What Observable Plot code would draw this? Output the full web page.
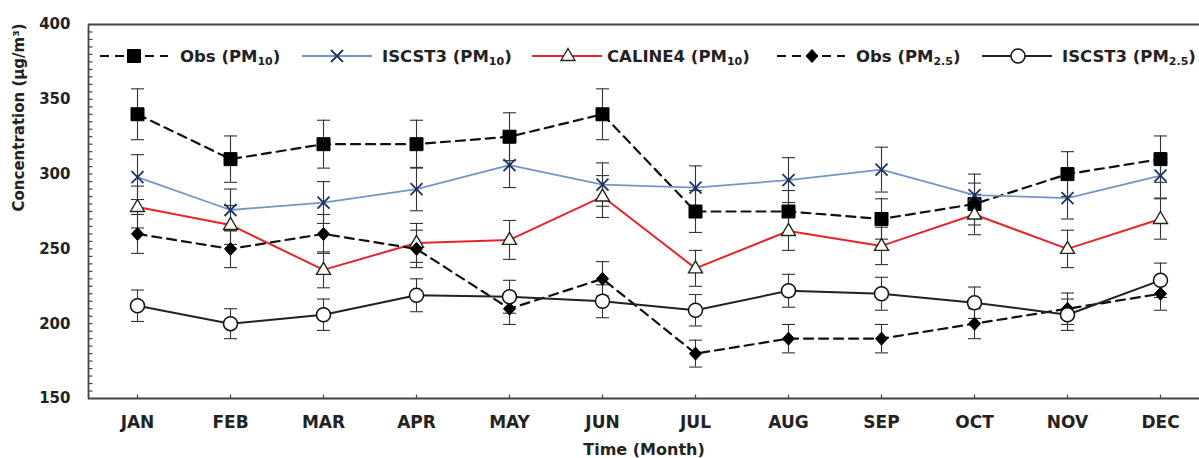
<!DOCTYPE html>
<html>
<head>
<meta charset="utf-8">
<script src="https://cdn.jsdelivr.net/npm/d3@7"></script>
<script src="https://cdn.jsdelivr.net/npm/@observablehq/plot@0.6"></script>
<style>
  html, body { margin: 0; padding: 0; background: #fff; overflow: hidden; }
  #wrap { position: relative; width: 1199px; height: 458px; overflow: hidden; }
  #legend { position: absolute; left: 0; top: 0; pointer-events: none; }
</style>
</head>
<body>
<div id="wrap"></div>
<script>
// Monthly concentrations (µg/m³), observed vs. modelled, with ± error
const months = ["JAN", "FEB", "MAR", "APR", "MAY", "JUN", "JUL", "AUG", "SEP", "OCT", "NOV", "DEC"];

const obsPM10     = [340, 310, 320, 320, 325, 340, 275, 275, 270, 280, 300, 310];
const obsPM10Err  = [17, 15.5, 16, 16, 16, 17, 14, 14, 13.5, 14, 15, 15.5];

const iscPM10     = [298, 276, 281, 290, 306, 293, 291, 296, 303, 286, 284, 299];
const iscPM10Err  = [15, 14, 14, 14.5, 15, 14.5, 14.5, 15, 15, 14, 14, 15];

const calPM10     = [278, 266, 236, 254, 256, 285, 237, 262, 252, 273, 250, 270];
const calPM10Err  = [14, 13, 12, 13, 13, 14, 12, 13, 12.5, 13.5, 12.5, 13.5];

const obsPM25     = [260, 250, 260, 250, 210, 230, 180, 190, 190, 200, 210, 220];
const obsPM25Err  = [13, 12.5, 13, 12.5, 10.5, 11.5, 9, 9.5, 9.5, 10, 10.5, 11];

const iscPM25     = [212, 200, 206, 219, 218, 215, 209, 222, 220, 214, 206, 229];
const iscPM25Err  = [10.5, 10, 10.5, 11, 11, 11, 10.5, 11, 11, 10.5, 10.5, 11.5];

const yDomain = [150, 400];
const yTicks = [150, 200, 250, 300, 350, 400];
const yMinorTicks = d3.range(155, 400, 5);

// Figure layout
const W = 1199, H = 458;
const M = {top: 24, right: 0, bottom: 60, left: 88};
const innerH = H - M.top - M.bottom;

// Marker shapes (fixed pixel size, drawn on a d3 path context)
const sym = {
  square:   {draw(c) { c.rect(-6.5, -6.5, 13, 13); }},
  times:    {draw(c) { c.moveTo(-6, -6); c.lineTo(6, 6); c.moveTo(-6, 6); c.lineTo(6, -6); }},
  triangle: {draw(c) { c.moveTo(0, -7.5); c.lineTo(7, 4.5); c.lineTo(-7, 4.5); c.closePath(); }},
  diamond:  {draw(c) { c.moveTo(0, -6.5); c.lineTo(6, 0); c.lineTo(0, 6.5); c.lineTo(-6, 0); c.closePath(); }},
  circle:   {draw(c) { c.moveTo(7, 0); c.arc(0, 0, 7, 0, 2 * Math.PI); }},
  cap:      {draw(c) { c.moveTo(-6.5, 0); c.lineTo(6.5, 0); }},
  tickUp:   {draw(c) { c.moveTo(0, 0); c.lineTo(0, -4); }},
  tickRight:{draw(c) { c.moveTo(0, 0); c.lineTo(4, 0); }},
  spine:    {draw(c) { c.moveTo(0, 0); c.lineTo(0, -innerH); }}
};

const series = [
  {key: "obs10", label: "Obs (PM", sub: "10", values: obsPM10, err: obsPM10Err,
   line: {stroke: "#111", strokeWidth: 2.2, strokeDasharray: "9,6"},
   marker: {symbol: sym.square, fill: "#000", stroke: "#000", strokeWidth: 1}},
  {key: "isc10", label: "ISCST3 (PM", sub: "10", values: iscPM10, err: iscPM10Err,
   line: {stroke: "#7396c8", strokeWidth: 1.8},
   marker: {symbol: sym.times, fill: "none", stroke: "#1f3263", strokeWidth: 1.8}},
  {key: "cal10", label: "CALINE4 (PM", sub: "10", values: calPM10, err: calPM10Err,
   line: {stroke: "#e3262b", strokeWidth: 2},
   marker: {symbol: sym.triangle, fill: "#fff", stroke: "#1d2a1d", strokeWidth: 1.4}},
  {key: "obs25", label: "Obs (PM", sub: "2.5", values: obsPM25, err: obsPM25Err,
   line: {stroke: "#111", strokeWidth: 2.2, strokeDasharray: "9,6"},
   marker: {symbol: sym.diamond, fill: "#000", stroke: "#000", strokeWidth: 1}},
  {key: "isc25", label: "ISCST3 (PM", sub: "2.5", values: iscPM25, err: iscPM25Err,
   line: {stroke: "#222", strokeWidth: 2},
   marker: {symbol: sym.circle, fill: "#fff", stroke: "#111", strokeWidth: 1.5}}
];

const rowsOf = s => months.map((m, i) => ({series: s.key, month: m, value: s.values[i], err: s.err[i]}));
const allRows = series.flatMap(rowsOf);

const FONT = "DejaVu Sans";
const INK = "#222";
const AXIS = "#444";

const chart = Plot.plot({
  width: W,
  height: H,
  marginTop: M.top,
  marginBottom: M.bottom,
  marginLeft: M.left,
  marginRight: M.right,
  style: {fontFamily: FONT, background: "#fff", color: INK},
  // month spacing continues past the right edge of the figure (box is open there)
  x: {type: "point", domain: months, range: [134.3, 1163.5], padding: 0},
  y: {domain: yDomain},
  marks: [
    // open box: bottom, top and left spines
    Plot.ruleY(yDomain, {stroke: AXIS, strokeWidth: 1.8}),
    Plot.dot([yDomain[0]], {y: d => d, frameAnchor: "left", symbol: sym.spine, stroke: AXIS, strokeWidth: 1.8}),
    // inward ticks
    Plot.dot(yMinorTicks, {y: d => d, frameAnchor: "left", symbol: sym.tickRight, stroke: AXIS, strokeWidth: 1.2}),
    Plot.dot(months, {x: d => d, frameAnchor: "bottom", symbol: sym.tickUp, stroke: AXIS, strokeWidth: 1.2}),
    Plot.axisY({ticks: yTicks, tickSize: 0, tickPadding: 18, fontSize: 15, fontWeight: "bold", fill: INK, label: null}),
    Plot.axisX({tickSize: 0, tickPadding: 17, fontSize: 17, fontWeight: "bold", fill: INK, label: null}),
    // error bars
    Plot.ruleX(allRows, {x: "month", y1: d => d.value - d.err, y2: d => d.value + d.err, stroke: "#333", strokeWidth: 1.1}),
    Plot.dot(allRows, {x: "month", y: d => d.value + d.err, symbol: sym.cap, stroke: "#333", strokeWidth: 1.1}),
    Plot.dot(allRows, {x: "month", y: d => d.value - d.err, symbol: sym.cap, stroke: "#333", strokeWidth: 1.1}),
    // connecting lines
    ...series.map(s => Plot.line(rowsOf(s), {x: "month", y: "value", ...s.line})),
    // markers
    ...series.map(s => Plot.dot(rowsOf(s), {x: "month", y: "value", ...s.marker})),
    // axis titles
    Plot.text(["Concentration (µg/m³)"], {frameAnchor: "left", dx: -69, rotate: -90, lineAnchor: "middle", fontSize: 15, fontWeight: "bold", fill: INK}),
    Plot.text(["Time (Month)"], {frameAnchor: "bottom", dy: 51, lineAnchor: "middle", fontSize: 16, fontWeight: "bold", fill: INK})
  ]
});

const wrap = document.getElementById("wrap");
wrap.appendChild(chart);

// Legend row drawn over the top of the plotting area
const legendItems = [
  {s: series[0], x0: 100, x1: 168, mx: 134, tx: 180},
  {s: series[1], x0: 302, x1: 372, mx: 337, tx: 382},
  {s: series[2], x0: 532, x1: 602, mx: 568, tx: 607},
  {s: series[3], x0: 777, x1: 845, mx: 812, tx: 856},
  {s: series[4], x0: 982, x1: 1052, mx: 1018, tx: 1062}
];
const legendY = 56;

const legend = d3.select(wrap).append("svg")
  .attr("id", "legend")
  .attr("width", W)
  .attr("height", H)
  .attr("font-family", FONT)
  .attr("font-weight", "bold");

for (const it of legendItems) {
  const g = legend.append("g");
  const ln = it.s.line;
  g.append("line")
    .attr("x1", it.x0).attr("x2", it.x1).attr("y1", legendY).attr("y2", legendY)
    .attr("stroke", ln.stroke).attr("stroke-width", ln.strokeWidth)
    .attr("stroke-dasharray", ln.strokeDasharray || null);
  const mk = it.s.marker;
  g.append("path")
    .attr("transform", `translate(${it.mx},${legendY})`)
    .attr("d", d3.symbol().type(mk.symbol)())
    .attr("fill", mk.fill).attr("stroke", mk.stroke).attr("stroke-width", mk.strokeWidth);
  const t = g.append("text")
    .attr("x", it.tx).attr("y", legendY).attr("dy", "0.36em")
    .attr("font-size", 16.5).attr("fill", INK);
  t.append("tspan").text(it.s.label);
  t.append("tspan").attr("font-size", 11).attr("dy", "0.3em").text(it.s.sub);
  t.append("tspan").attr("dy", "-0.2em").text(")");
}
</script>
</body>
</html>
